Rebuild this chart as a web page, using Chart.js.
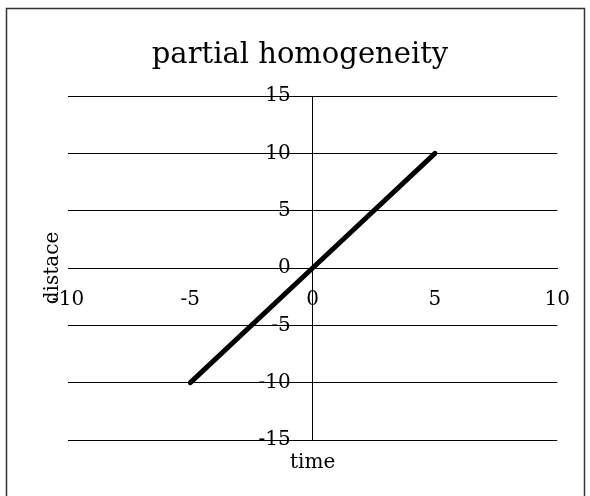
<!DOCTYPE html>
<html>
<head>
<meta charset="utf-8">
<script src="https://cdn.jsdelivr.net/npm/chart.js@4/dist/chart.umd.min.js"></script>
<style>
  html, body { margin: 0; padding: 0; background: #fff; }
  #wrap { width: 590px; height: 496px; }
</style>
</head>
<body>
<div id="wrap"><canvas id="chart"></canvas></div>
<script>
const chartTitle = 'partial homogeneity';
const xTitle = 'time';
const yTitle = 'distace';
const timeValues = [-5, 0, 5];
const distanceValues = [-10, 0, 10];
const xTicks = [-10, -5, 0, 5, 10];
const yTicks = [-15, -10, -5, 0, 5, 10, 15];

const serif = '"DejaVu Serif", serif';

// frame round the chart plus the titles (axes sit in the middle, so their own titles would land wrong)
const frameAndTitles = {
  id: 'frameAndTitles',
  beforeDraw(chart) {
    const ctx = chart.ctx;
    ctx.save();
    ctx.strokeStyle = '#333';
    ctx.lineWidth = 1.5;
    ctx.beginPath();
    ctx.moveTo(6.5, 500);
    ctx.lineTo(6.5, 8.5);
    ctx.lineTo(584.5, 8.5);
    ctx.lineTo(584.5, 500);
    ctx.stroke();
    ctx.restore();
  },
  afterDraw(chart) {
    const {ctx, chartArea} = chart;
    ctx.save();
    ctx.fillStyle = '#000';
    ctx.textAlign = 'center';
    ctx.textBaseline = 'alphabetic';
    ctx.font = '29px ' + serif;
    ctx.fillText(chartTitle, 300, 63);
    ctx.font = '20px ' + serif;
    ctx.fillText(xTitle, (chartArea.left + chartArea.right) / 2, 468);
    ctx.translate(58, (chartArea.top + chartArea.bottom) / 2);
    ctx.rotate(-Math.PI / 2);
    ctx.fillText(yTitle, 0, 0);
    ctx.restore();
  }
};

const ctx = document.getElementById('chart').getContext('2d');
new Chart(ctx, {
  type: 'scatter',
  data: {
    datasets: [{
      label: 'distance',
      data: timeValues.map((t, i) => ({x: t, y: distanceValues[i]})),
      showLine: true,
      borderColor: '#000',
      borderWidth: 5,
      borderCapStyle: 'round',
      pointRadius: 0
    }]
  },
  options: {
    responsive: true,
    maintainAspectRatio: false,
    animation: false,
    layout: { padding: { left: 68, right: 32, top: 96, bottom: 56 } },
    plugins: {
      legend: { display: false },
      title: { display: false },
      tooltip: { enabled: false }
    },
    scales: {
      x: {
        type: 'linear',
        position: { y: 0 },
        min: -10,
        max: 10,
        afterBuildTicks: s => { s.ticks = xTicks.map(v => ({value: v})); },
        // only the x = 0 line is drawn, it is the vertical axis
        grid: {
          color: c => (c.tick && c.tick.value === 0) ? '#000' : 'rgba(0,0,0,0)',
          lineWidth: 1,
          drawTicks: false
        },
        border: { display: true, color: '#000', width: 1 },
        ticks: { color: '#000', padding: 20, maxRotation: 0, font: { family: serif, size: 20 } }
      },
      y: {
        type: 'linear',
        // labels sit a little left of the x = 0 line
        position: { x: -0.9 },
        min: -15,
        max: 15,
        afterBuildTicks: s => { s.ticks = yTicks.map(v => ({value: v})); },
        grid: { color: '#000', lineWidth: 1, drawTicks: false },
        border: { display: false },
        ticks: { color: '#000', font: { family: serif, size: 20 } }
      }
    }
  },
  plugins: [frameAndTitles]
});
</script>
</body>
</html>
